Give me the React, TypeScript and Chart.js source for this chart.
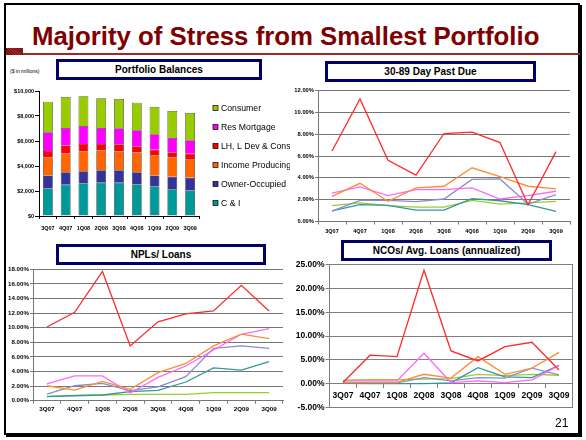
import React, { useEffect, useRef } from 'react';
import { Chart, registerables } from 'chart.js';
Chart.register(...registerables);

const FONT = 'Arial, "Liberation Sans", Helvetica, sans-serif';

const quarters = ['3Q07', '4Q07', '1Q08', '2Q08', '3Q08', '4Q08', '1Q09', '2Q09', '3Q09'];

// Portfolio balances ($ in millions), stacked segments
const balCI = [2200, 2500, 2600, 2660, 2660, 2530, 2370, 2150, 2050];
const balOO = [1040, 1010, 990, 1010, 1010, 980, 880, 990, 1010];
const balIP = [1440, 1490, 1570, 1570, 1490, 1570, 1620, 1540, 1490];
const balLH = [530, 640, 610, 530, 590, 500, 430, 430, 430];
const balRM = [1490, 1410, 1440, 1280, 1280, 1280, 1250, 1140, 1090];
const balCons = [2450, 2470, 2370, 2370, 2340, 2210, 2180, 2150, 2180];

// 30-89 Day Past Due (%)
const pdCI = [0.98, 1.54, 1.48, 1.05, 1.05, 2.1, 1.9, 1.54, 0.92];
const pdOO = [0.95, 1.94, 1.94, 1.82, 2.06, 3.85, 3.9, 1.6, 2.46];
const pdIP = [2.3, 3.5, 1.85, 3.08, 3.23, 4.92, 4.1, 3.23, 2.98];
const pdLH = [6.46, 11.23, 5.6, 4.25, 8.06, 8.18, 7.23, 1.54, 6.4];
const pdRM = [2.6, 3.17, 2.37, 2.92, 2.92, 3.08, 2.06, 2.37, 2.77];
const pdCons = [1.45, 1.7, 1.45, 1.32, 1.32, 1.94, 1.6, 1.7, 1.85];

// NPLs / Loans (%)
const nplCI = [0.55, 0.68, 0.78, 1.23, 1.42, 2.56, 4.5, 4.2, 5.34];
const nplOO = [0.9, 2.05, 2.37, 1.37, 1.9, 3.3, 7.17, 7.5, 7.17];
const nplIP = [2.05, 1.46, 2.65, 1.55, 3.84, 5.1, 7.5, 9.13, 8.5];
const nplLH = [10.1, 12.1, 17.7, 7.5, 10.8, 11.9, 12.3, 15.8, 12.3];
const nplRM = [2.3, 3.4, 3.4, 1.05, 3.2, 4.75, 6.95, 9.1, 9.86];
const nplCons = [0.6, 0.73, 0.78, 0.87, 0.87, 0.87, 1.1, 1.1, 1.1];

// NCOs / Avg. Loans, annualized (%)
const ncoCI = [0.1, 0.05, 0.05, 0.05, 0.2, 3.4, 1.45, 1.3, 3.9];
const ncoOO = [0.3, 0.2, 0.2, 1.3, 0.6, 1.3, 1.2, 3.3, 1.9];
const ncoIP = [0.27, 0.3, 0.3, 2.0, 1.2, 5.7, 2.0, 3.3, 6.6];
const ncoLH = [0.27, 6.0, 5.7, 23.8, 6.9, 4.8, 7.8, 8.7, 2.9];
const ncoRM = [0.6, 0.6, 0.6, 6.4, 0.27, 0.6, 0.27, 0.83, 3.8];
const ncoCons = [0.75, 0.9, 0.9, 1.0, 1.1, 2.0, 1.7, 2.0, 1.8];

const seriesLabels = ['C & I', 'Owner-Occupied', 'Income Producing', 'LH, L Dev & Cons', 'Res Mortgage', 'Consumer'];
const barColors = ['#009999', '#333399', '#FF6600', '#FF0000', '#FF00FF', '#99CC00'];
const lineColors = ['#2E9A9A', '#8C8CCC', '#FF8C33', '#FF2A2A', '#FF66FF', '#99CC33'];

const pctLabel = (v: any) => Number(v).toFixed(2) + '%';
const dollarLabel = (v: any) => '$' + Number(v).toLocaleString('en-US');

const portfolioLegend = {
  id: 'portfolioLegend',
  afterDraw(chart: any) {
    const ctx = chart.ctx;
    const ds = chart.data.datasets;
    const x = chart.chartArea.right + 14;
    ctx.save();
    ctx.font = '8.7px ' + FONT;
    ctx.textBaseline = 'middle';
    ctx.textAlign = 'left';
    for (let k = 0; k < ds.length; k++) {
      const d = ds[ds.length - 1 - k];
      const y = 24 + k * 19;
      ctx.fillStyle = d.backgroundColor;
      ctx.fillRect(x, y - 2.5, 5, 5);
      ctx.strokeStyle = '#000';
      ctx.lineWidth = 0.7;
      ctx.strokeRect(x, y - 2.5, 5, 5);
      ctx.fillStyle = '#000';
      ctx.fillText(d.label, x + 8, y + 0.5);
    }
    ctx.restore();
  },
};

function lineSets(ci: number[], oo: number[], ip: number[], lh: number[], rm: number[], cons: number[]) {
  const sets = [ci, oo, ip, lh, rm, cons];
  const drawOrder = [3, 2, 4, 1, 0, 5];
  return drawOrder.map((i) => ({
    label: seriesLabels[i],
    data: sets[i],
    borderColor: lineColors[i],
    backgroundColor: lineColors[i],
    borderWidth: 1.3,
    pointRadius: 0,
    tension: 0,
    fill: false,
  }));
}

function lineConfig(p: any): any {
  return {
    type: 'line',
    data: { labels: quarters, datasets: p.datasets },
    options: {
      responsive: false,
      animation: false,
      layout: { padding: { left: 0, top: p.padTop, right: p.padRight, bottom: p.padBottom || 0 } },
      plugins: { legend: { display: false }, tooltip: { enabled: false } },
      scales: {
        x: {
          type: 'category',
          offset: true,
          position: p.xPosition || 'bottom',
          grid: { display: true, drawOnChartArea: false, offset: true, tickLength: p.xTick, color: p.gridColor },
          border: { display: true, color: p.gridColor },
          ticks: { font: { size: p.xFont, weight: 'bold' }, color: '#000', padding: p.xPad, maxRotation: 0, autoSkip: false },
          afterFit: p.xH != null ? (s: any) => { s.height = p.xH; } : undefined,
        },
        y: {
          min: p.min,
          max: p.max,
          ticks: { stepSize: p.step, callback: pctLabel, font: { size: p.yFont, weight: 'bold' }, color: '#000', padding: 1 },
          grid: { color: p.gridColor, lineWidth: 1, tickLength: p.yTick },
          border: { display: true, color: p.gridColor },
          afterFit: (s: any) => { s.width = p.yW; },
        },
        ...(p.rightBorder
          ? {
              y2: {
                position: 'right',
                display: true,
                min: 0,
                max: 1,
                ticks: { display: false },
                grid: { display: false, drawTicks: false },
                border: { display: true, color: p.gridColor },
                afterFit: (s: any) => { s.width = 0; },
              },
            }
          : {}),
      },
    },
  };
}

const boxStyle = (l: number, t: number, w: number, h: number): React.CSSProperties => ({
  position: 'absolute',
  left: l,
  top: t,
  width: w,
  height: h,
  boxSizing: 'border-box',
  border: '3px solid #000066',
  background: '#fff',
  display: 'flex',
  alignItems: 'center',
  justifyContent: 'center',
  font: `bold 10px ${FONT}`,
  color: '#000',
  whiteSpace: 'nowrap',
});

const abs = (l: number, t: number, w: number, h: number): React.CSSProperties => ({
  position: 'absolute',
  left: l,
  top: t,
  width: w,
  height: h,
});

export default function App() {
  const pbRef = useRef<HTMLCanvasElement>(null);
  const pdRef = useRef<HTMLCanvasElement>(null);
  const nplRef = useRef<HTMLCanvasElement>(null);
  const ncoRef = useRef<HTMLCanvasElement>(null);

  useEffect(() => {
    Chart.defaults.font.family = FONT;
    const charts: any[] = [];
    const balSets = [balCI, balOO, balIP, balLH, balRM, balCons];

    charts.push(
      new Chart(pbRef.current as HTMLCanvasElement, {
        type: 'bar',
        data: {
          labels: quarters,
          datasets: balSets.map((d, i) => ({
            label: seriesLabels[i],
            data: d,
            backgroundColor: barColors[i],
            borderColor: '#000',
            borderWidth: 0.6,
            barPercentage: 0.55,
            categoryPercentage: 1,
          })),
        },
        options: {
          responsive: false,
          animation: false,
          layout: { padding: { left: 0, top: 7, right: 91, bottom: 0 } },
          plugins: { legend: { display: false }, tooltip: { enabled: false } },
          scales: {
            x: {
              stacked: true,
              grid: { display: true, drawOnChartArea: false, offset: true, tickLength: 3, color: '#000' },
              border: { display: true, color: '#000' },
              ticks: { font: { size: 5.5, weight: 'bold' }, color: '#000', padding: 6, maxRotation: 0, autoSkip: false },
              afterFit: (s: any) => { s.height = 18; },
            },
            y: {
              stacked: true,
              min: 0,
              max: 10000,
              ticks: { stepSize: 2000, callback: dollarLabel, font: { size: 5.5, weight: 'bold' }, color: '#000', padding: 1 },
              grid: { drawOnChartArea: false, tickLength: 4, color: '#000' },
              border: { display: true, color: '#000' },
              afterFit: (s: any) => { s.width = 34; },
            },
          },
        } as any,
        plugins: [portfolioLegend],
      } as any)
    );

    charts.push(
      new Chart(
        pdRef.current as HTMLCanvasElement,
        lineConfig({
          datasets: lineSets(pdCI, pdOO, pdIP, pdLH, pdRM, pdCons),
          min: 0, max: 12, step: 2,
          padTop: 6.5, padRight: 8, yW: 26, xH: 17.5,
          xFont: 5.5, yFont: 5.8, xPad: 3.7, xTick: 3, yTick: 3,
          gridColor: '#777777',
        })
      )
    );

    charts.push(
      new Chart(
        nplRef.current as HTMLCanvasElement,
        lineConfig({
          datasets: lineSets(nplCI, nplOO, nplIP, nplLH, nplRM, nplCons),
          min: 0, max: 18, step: 2,
          padTop: 7.3, padRight: 7, yW: 28, xH: 26.3,
          xFont: 6.2, yFont: 6.2, xPad: 1.5, xTick: 3, yTick: 3,
          gridColor: '#777777',
        })
      )
    );

    charts.push(
      new Chart(
        ncoRef.current as HTMLCanvasElement,
        lineConfig({
          datasets: lineSets(ncoCI, ncoOO, ncoIP, ncoLH, ncoRM, ncoCons),
          min: -5, max: 25, step: 5,
          padTop: 6.5, padRight: 7.5, padBottom: 10.3, yW: 37.5,
          xPosition: { y: 0 },
          xFont: 8.5, yFont: 8.5, xPad: 3, xTick: 4, yTick: 4,
          gridColor: '#808080',
          rightBorder: true,
        })
      )
    );

    return () => charts.forEach((c) => c.destroy());
  }, []);

  return (
    <div style={{ position: 'fixed', left: 0, top: 0, width: 586, height: 440, background: '#fff', overflow: 'hidden', fontFamily: FONT }}>
      {/* slide frame */}
      <div style={{ ...abs(4, 3, 576, 432), boxSizing: 'border-box', border: '2px solid #000', boxShadow: '2px 2px 0 #000' }} />
      {/* title */}
      <div style={{ position: 'absolute', left: 32, top: 23, font: `bold 25.8px ${FONT}`, lineHeight: '26px', color: '#800000', whiteSpace: 'nowrap' }}>
        Majority of Stress from Smallest Portfolio
      </div>
      {/* rule */}
      <div style={{ ...abs(6, 53, 574, 2), background: '#9B2B2B' }} />
      <div style={{ ...abs(6, 48, 17, 7), background: 'repeating-linear-gradient(45deg, #7A0F0F 0px, #7A0F0F 1px, #9A2A2A 1px, #9A2A2A 2px)' }} />

      <canvas ref={pbRef} width={285} height={150} style={abs(5, 84, 285, 150)} />
      <canvas ref={pdRef} width={286} height={155} style={abs(292, 84, 286, 155)} />
      <canvas ref={nplRef} width={285} height={165} style={abs(5, 262, 285, 165)} />
      <canvas ref={ncoRef} width={288} height={160} style={abs(292, 258, 288, 160)} />

      <div style={{ position: 'absolute', left: 10, top: 68, font: `5px ${FONT}`, color: '#000', whiteSpace: 'nowrap' }}>($ in millions)</div>

      <div style={boxStyle(56, 59, 206, 21)}>Portfolio Balances</div>
      <div style={boxStyle(325, 61, 211, 21)}>30-89 Day Past Due</div>
      <div style={boxStyle(56, 244, 210, 21)}>NPLs/ Loans</div>
      <div style={boxStyle(341, 240, 211, 21)}>NCOs/ Avg. Loans (annualized)</div>

      <div style={{ position: 'absolute', left: 555, top: 416, font: `12px ${FONT}`, color: '#000' }}>21</div>
    </div>
  );
}
